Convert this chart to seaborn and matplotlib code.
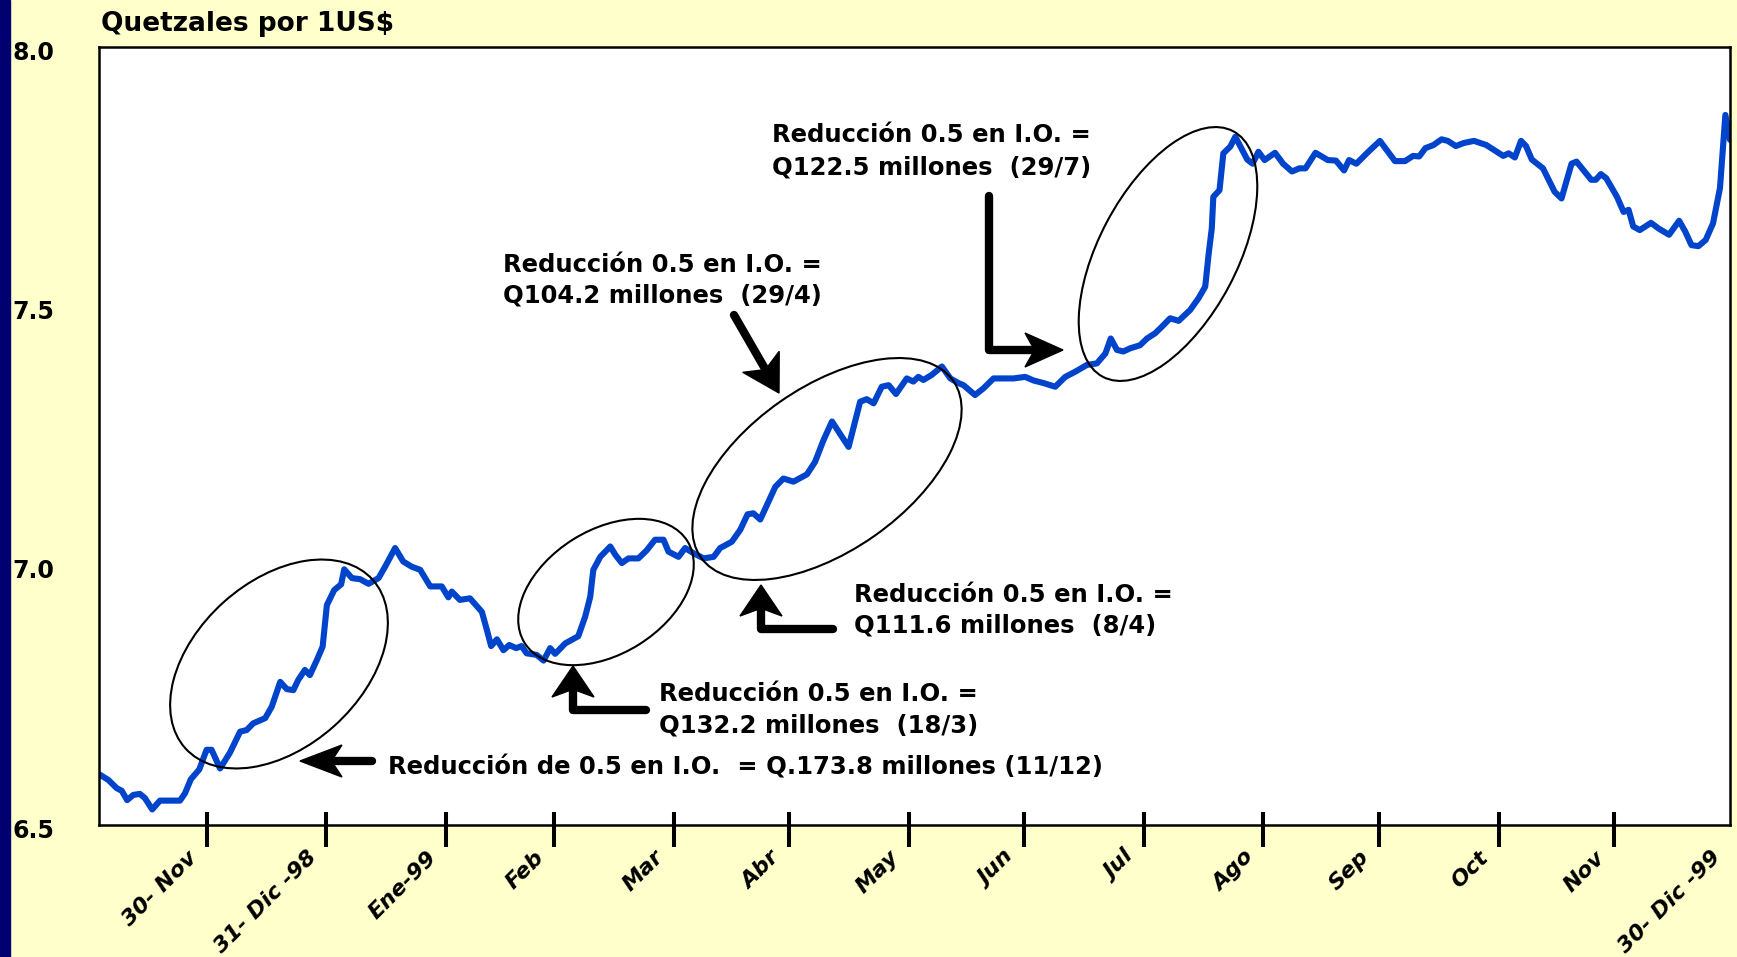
import numpy as np
import pandas as pd
import seaborn as sns
import matplotlib.pyplot as plt
import matplotlib.dates as mdates
from matplotlib import transforms as mtransforms
from matplotlib.patches import Ellipse, Polygon, Rectangle
from matplotlib.lines import Line2D

# tipo de cambio diario (dias contados desde el 2-nov-1998)
dias = [0.0, 2.4, 4.6, 5.9, 7.3, 8.9, 10.6, 11.9, 13.8, 15.8,
        21.0, 22.3, 23.8, 26.0, 27.9, 29.2, 31.4, 34.0, 36.6, 38.3,
        40.0, 43.1, 44.8, 47.0, 48.7, 50.4, 51.7, 53.4, 54.7, 56.5,
        58.0, 59.1, 61.0, 62.8, 63.6, 65.6, 67.7, 69.9, 72.5, 74.2,
        76.8, 78.9, 81.1, 83.3, 85.9, 88.9, 90.6, 91.5, 93.6, 96.2,
        99.3, 100.6, 101.7, 103.2, 104.9, 106.4, 108.2, 109.6, 110.9, 113.5,
        115.3, 117.0, 118.3, 120.9, 124.3, 126.1, 127.4, 128.2, 130.0, 132.6,
        133.9, 135.6, 137.3, 139.9, 142.1, 144.2, 146.4, 147.7, 150.3, 152.0,
        154.2, 156.8, 159.4, 161.1, 164.1, 166.3, 168.2, 169.7, 171.5, 175.4,
        177.5, 180.1, 183.6, 185.7, 187.9, 190.1, 194.4, 197.4, 199.1, 200.9,
        203.0, 204.8, 206.7, 209.5, 211.2, 212.5, 213.8, 216.0, 218.6, 220.8,
        222.9, 224.2, 227.2, 229.4, 232.0, 234.6, 237.2, 240.2, 242.4, 245.0,
        248.0, 250.6, 253.2, 256.2, 258.8, 261.0, 262.4, 264.0, 265.7, 267.4,
        270.0, 271.8, 273.9, 275.7, 277.8, 280.0, 283.0, 285.2, 286.9, 287.8,
        288.6, 289.0, 290.6, 291.6, 293.4, 294.7, 297.8, 299.2, 300.7, 302.3,
        305.0, 307.1, 309.4, 311.3, 312.9, 315.5, 318.7, 320.8, 322.9, 324.2,
        326.1, 329.2, 332.2, 336.1, 338.7, 340.8, 342.4, 344.0, 346.1, 348.2,
        349.8, 351.9, 354.0, 356.6, 359.8, 361.9, 364.2, 365.6, 367.2, 368.8,
        370.1, 371.6, 374.5, 377.5, 379.3, 381.9, 383.2, 387.0, 388.2, 389.5,
        390.9, 393.7, 395.4, 396.7, 397.9, 399.6, 402.5, 404.5, 407.2, 409.8,
        411.4, 413.0, 414.8, 416.7, 418.6, 420.4, 421.8, 423.0]

tipo_cambio = [6.598, 6.587, 6.571, 6.566, 6.548, 6.558, 6.560, 6.552, 6.530, 6.547,
               6.547, 6.561, 6.588, 6.607, 6.645, 6.645, 6.609, 6.640, 6.680, 6.683,
               6.696, 6.706, 6.728, 6.776, 6.762, 6.760, 6.780, 6.799, 6.789, 6.818,
               6.844, 6.924, 6.953, 6.964, 6.993, 6.976, 6.974, 6.965, 6.976, 6.998,
               7.034, 7.008, 6.998, 6.992, 6.960, 6.960, 6.939, 6.950, 6.934, 6.937,
               6.911, 6.876, 6.845, 6.858, 6.837, 6.847, 6.841, 6.845, 6.831, 6.828,
               6.817, 6.841, 6.830, 6.850, 6.864, 6.902, 6.940, 6.992, 7.017, 7.037,
               7.021, 7.005, 7.014, 7.014, 7.030, 7.050, 7.050, 7.027, 7.017, 7.034,
               7.024, 7.014, 7.017, 7.034, 7.046, 7.069, 7.099, 7.101, 7.089, 7.152,
               7.168, 7.162, 7.176, 7.200, 7.242, 7.278, 7.229, 7.316, 7.321, 7.313,
               7.345, 7.348, 7.331, 7.361, 7.355, 7.364, 7.358, 7.368, 7.384, 7.361,
               7.352, 7.348, 7.329, 7.342, 7.361, 7.361, 7.361, 7.364, 7.357, 7.352,
               7.345, 7.364, 7.374, 7.387, 7.390, 7.409, 7.438, 7.416, 7.413, 7.419,
               7.425, 7.438, 7.448, 7.461, 7.477, 7.472, 7.493, 7.516, 7.538, 7.602,
               7.650, 7.711, 7.724, 7.795, 7.808, 7.827, 7.783, 7.775, 7.798, 7.782,
               7.796, 7.775, 7.760, 7.766, 7.766, 7.796, 7.782, 7.781, 7.762, 7.782,
               7.775, 7.798, 7.819, 7.780, 7.780, 7.790, 7.789, 7.805, 7.811, 7.822,
               7.819, 7.809, 7.815, 7.819, 7.811, 7.801, 7.790, 7.795, 7.787, 7.819,
               7.809, 7.783, 7.766, 7.721, 7.708, 7.775, 7.779, 7.744, 7.744, 7.755,
               7.747, 7.711, 7.682, 7.686, 7.654, 7.647, 7.661, 7.650, 7.638, 7.665,
               7.644, 7.618, 7.616, 7.628, 7.660, 7.728, 7.869, 7.821]

fecha_inicio = '1998-11-02'
fecha_fin = '1999-12-30'
meses = ['1998-11-30', '1998-12-31', '1999-01-31', '1999-02-28', '1999-03-31',
         '1999-04-30', '1999-05-31', '1999-06-30', '1999-07-31', '1999-08-31',
         '1999-09-30', '1999-10-31', '1999-11-30', '1999-12-30']
etiquetas = ['30- Nov', '31- Dic -98', 'Ene-99', 'Feb', 'Mar', 'Abr', 'May', 'Jun',
             'Jul', 'Ago', 'Sep', 'Oct', 'Nov', '30- Dic -99']
y_ticks = [6.5, 7.0, 7.5, 8.0]

notas = [
    ['Reducción de 0.5 en I.O.  = Q.173.8 millones (11/12)'],
    ['Reducción 0.5 en I.O. =', 'Q132.2 millones  (18/3)'],
    ['Reducción 0.5 en I.O. =', 'Q111.6 millones  (8/4)'],
    ['Reducción 0.5 en I.O. =', 'Q104.2 millones  (29/4)'],
    ['Reducción 0.5 en I.O. =', 'Q122.5 millones  (29/7)'],
]

sns.set_style('white')
plt.rcParams['font.family'] = ['DejaVu Sans']
plt.rcParams['text.color'] = 'black'
plt.rcParams['xtick.color'] = 'black'
plt.rcParams['ytick.color'] = 'black'

W, H = 1737, 957
fig = plt.figure(figsize=(W / 100, H / 100), dpi=100, facecolor='#FFFFCC')
ax = fig.add_axes([99 / W, 1 - 825 / H, 1631 / W, 778 / H])
ax.set_facecolor('white')
# coordenadas en pixeles de la lamina (origen arriba a la izquierda)
px = mtransforms.Affine2D().scale(1 / W, -1 / H).translate(0, 1) + fig.transFigure

fig.add_artist(Rectangle((0, 0), 10 / W, 1, transform=fig.transFigure,
                         color='#000070', zorder=0))

fechas = pd.Timestamp(fecha_inicio) + pd.to_timedelta(dias, unit='D')
sns.lineplot(x=fechas, y=tipo_cambio, ax=ax, color='#0044CC', linewidth=4.4, zorder=2)

ax.set_xlim(pd.Timestamp(fecha_inicio), pd.Timestamp(fecha_fin))
ax.set_ylim(6.5, 8.0)
ax.set_xlabel('')
ax.set_ylabel('')

ticks = mdates.date2num(pd.to_datetime(meses))
ax.set_xticks(ticks)
ax.set_xticklabels(etiquetas, rotation=45, ha='right', va='center',
                   rotation_mode='anchor', fontsize=16, fontweight='bold',
                   fontstyle='italic', color='black')
ax.set_xticks(ticks[:-1], minor=True)
ax.xaxis.remove_overlapping_locs = False
ax.tick_params(axis='x', which='both', bottom=True, top=False)
ax.tick_params(axis='x', which='major', direction='out', length=16, width=2.9,
               color='black', pad=5)
ax.tick_params(axis='x', which='minor', direction='in', length=9.4, width=2.9,
               color='black')
ax.xaxis.get_major_ticks()[-1].tick1line.set_visible(False)
desplazar = mtransforms.ScaledTranslation(-13 / 100, 0, fig.dpi_scale_trans)
for lab in ax.get_xticklabels():
    lab.set_transform(lab.get_transform() + desplazar)

ax.set_yticks(y_ticks)
ax.set_yticklabels([f'{v:.1f}' for v in y_ticks], fontsize=17, fontweight='bold',
                   ha='left', color='black')
ax.tick_params(axis='y', left=False, length=0, pad=(99 - 12) * 0.72)
bajar = mtransforms.ScaledTranslation(0, -3 / 100, fig.dpi_scale_trans)
for lab in ax.get_yticklabels():
    lab.set_transform(lab.get_transform() + bajar)

for s in ax.spines.values():
    s.set_visible(True)
    s.set_color('black')
    s.set_linewidth(1.8)

ax.text(101, 31, 'Quetzales por 1US$', transform=px, fontsize=19,
        fontweight='bold', ha='left', va='baseline', color='black')

# elipses que marcan cada reduccion
elipses = [((279, 664), 252, 166, -42), ((606, 592), 192, 124, -32),
           ((827, 469), 308, 164, -35), ((1168, 254), 278, 138, -62)]
for centro, ancho, alto, ang in elipses:
    ax.add_patch(Ellipse(centro, ancho, alto, angle=ang, transform=px, fill=False,
                         edgecolor='black', linewidth=1.5, clip_on=False, zorder=3))


def flecha(puntos, largo, ancho, grosor=6.0):
    pts = np.array(puntos, dtype=float)
    punta, previo = pts[-1], pts[-2]
    d = (punta - previo) / np.linalg.norm(punta - previo)
    n = np.array([-d[1], d[0]])
    base = punta - d * largo
    tallo = np.vstack([pts[:-1], base + d * largo * 0.3])
    ax.add_line(Line2D(tallo[:, 0], tallo[:, 1], transform=px, color='black',
                       linewidth=grosor, solid_capstyle='round',
                       solid_joinstyle='round', clip_on=False, zorder=4))
    cabeza = [punta, base + n * ancho / 2, base + d * largo * 0.25, base - n * ancho / 2]
    ax.add_patch(Polygon(cabeza, closed=True, transform=px, facecolor='black',
                         edgecolor='black', clip_on=False, zorder=4))


flecha([(372, 761), (300, 761)], 42, 32)
flecha([(646, 710), (573, 710), (573, 666)], 31, 42)
flecha([(833, 629), (761, 629), (761, 585)], 31, 42)
flecha([(734, 315), (779, 393)], 36, 42)
flecha([(989, 196), (989, 350), (1063, 350)], 38, 34)

posiciones = [(388, [775]), (659, [701, 732]), (854, [602, 633]),
              (503, [272, 303]), (772, [142, 175])]
for lineas, (x0, ys) in zip(notas, posiciones):
    for texto, y0 in zip(lineas, ys):
        ax.text(x0, y0, texto, transform=px, fontsize=17.5, fontweight='bold',
                ha='left', va='baseline', zorder=5, color='black')

fig.savefig('out.png', dpi=100, facecolor=fig.get_facecolor())
